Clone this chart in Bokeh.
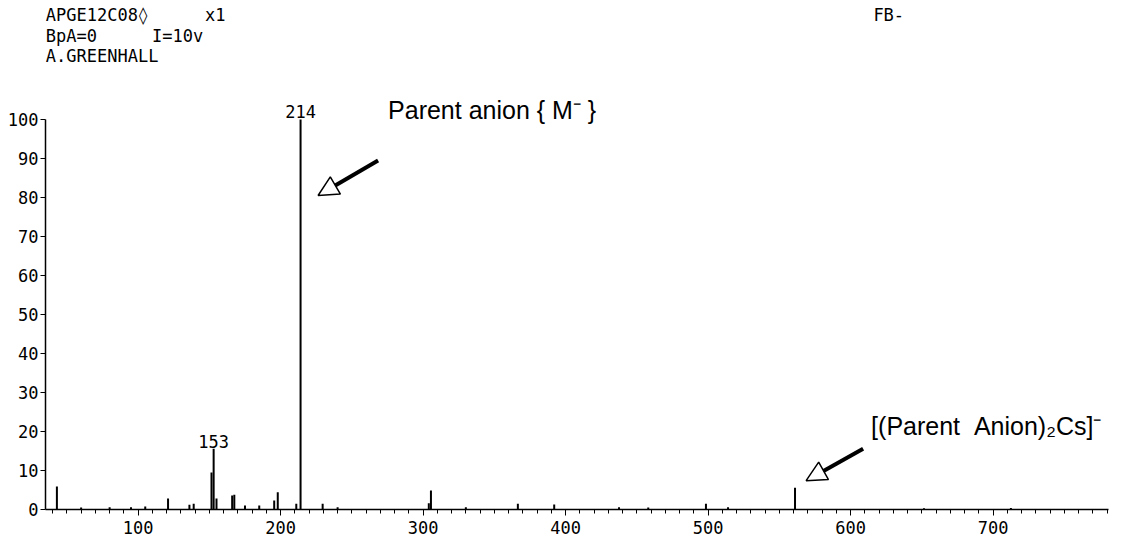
from bokeh.plotting import figure
from bokeh.models import Range1d, Label, Arrow, NormalHead, FixedTicker, ColumnDataSource
from bokeh.embed import file_html
from bokeh.resources import INLINE

# ---- data (m/z, relative intensity) ----
mz = [43, 60, 80, 95, 105, 121, 136, 139, 151.5, 153, 155, 166, 167.5,
      175, 185, 195.5, 198, 211, 214, 229.5, 240, 304, 305.5, 330, 366.5,
      392, 437.5, 458, 498.5, 514, 561, 651.5, 712.5]
intensity = [5.9, 0.5, 0.6, 0.6, 0.8, 2.8, 1.2, 1.5, 9.5, 15.6, 2.8, 3.6, 3.8,
             1.0, 1.0, 2.3, 4.4, 1.5, 100, 1.5, 0.6, 1.6, 4.9, 0.6, 1.5,
             1.3, 0.6, 0.5, 1.5, 0.6, 5.6, 0.3, 0.4]

x_ticks = [100, 200, 300, 400, 500, 600, 700]
y_ticks = [0, 10, 20, 30, 40, 50, 60, 70, 80, 90, 100]

header_rows = ["APGE12C08\u25ca", "BpA=0", "A.GREENHALL"]
header_extra = ["x1", "I=10v"]
mode_label = "FB-"
peak_labels = [("214", 214, 100), ("153", 153, 15.6)]
ann1 = "Parent anion { M\u207b }"
ann2 = "[(Parent\u00a0\u00a0Anion)\u2082Cs]\u207b"

PLOT_FONT = "DejaVu Sans Mono"
ANN_FONT = "Liberation Sans"

p = figure(frame_width=1063, frame_height=509,
           min_border_left=45, min_border_right=6, min_border_top=0, min_border_bottom=34,
           x_range=Range1d(35, 781), y_range=Range1d(0, 130.5),
           output_backend="svg", toolbar_location=None, tools="")
p.grid.visible = False
p.outline_line_color = None
p.background_fill_color = "white"

src = ColumnDataSource(dict(x=mz, y=intensity, y0=[0] * len(mz)))
p.segment(x0="x", y0="y0", x1="x", y1="y", source=src, line_color="black", line_width=2)

# axes
xa = p.xaxis[0]
xa.ticker = FixedTicker(ticks=x_ticks, minor_ticks=list(range(40, 790, 10)))
xa.major_tick_out = 6
xa.major_tick_in = 0
xa.minor_tick_out = 4
xa.minor_tick_in = 0
xa.axis_line_width = 1.5
xa.major_label_standoff = 5
xa.major_label_text_font = PLOT_FONT
xa.major_label_text_font_size = "17px"
xa.major_label_text_color = "black"

ya = p.yaxis[0]
ya.ticker = FixedTicker(ticks=y_ticks)
ya.bounds = (0, 100)
ya.major_tick_out = 5
ya.major_tick_in = 0
ya.minor_tick_line_color = None
ya.axis_line_width = 1.5
ya.major_label_standoff = 2
ya.major_label_text_font = PLOT_FONT
ya.major_label_text_font_size = "17px"
ya.major_label_text_color = "black"

# header texts
rows_y = [126.7, 121.3, 116.2]
for t, yy in zip(header_rows, rows_y):
    p.add_layout(Label(x=35.2, y=yy, text=t, text_font=PLOT_FONT, text_font_size="17px",
                       text_baseline="middle", text_color="black"))
p.add_layout(Label(x=147, y=rows_y[0], text=header_extra[0], text_font=PLOT_FONT,
                   text_font_size="17px", text_baseline="middle", text_color="black"))
p.add_layout(Label(x=109.8, y=rows_y[1], text=header_extra[1], text_font=PLOT_FONT,
                   text_font_size="17px", text_baseline="middle", text_color="black"))
p.add_layout(Label(x=616, y=rows_y[0], text=mode_label, text_font=PLOT_FONT,
                   text_font_size="17px", text_baseline="middle", text_color="black"))

# peak labels
for t, m, h in peak_labels:
    p.add_layout(Label(x=m, y=h, text=t, text_font=PLOT_FONT, text_font_size="17px",
                       text_align="center", text_baseline="bottom", y_offset=1,
                       text_color="black"))

# annotations
p.add_layout(Label(x=275.4, y=102.3, text=ann1, text_font=ANN_FONT, text_font_size="25px",
                   text_baseline="middle", text_color="black"))
p.add_layout(Arrow(x_start=268.4, y_start=89.5, x_end=226.3, y_end=80.5, line_width=4,
                   end=NormalHead(size=20, fill_color="white", line_color="black", line_width=1.5)))

p.add_layout(Label(x=614.4, y=21.5, text=ann2, text_font=ANN_FONT, text_font_size="25px",
                   text_baseline="middle", text_color="black"))
p.add_layout(Arrow(x_start=608.8, y_start=15.6, x_end=568.8, y_end=7.4, line_width=4,
                   end=NormalHead(size=20, fill_color="white", line_color="black", line_width=1.5)))

open("out.html", "w").write(file_html(p, INLINE))
